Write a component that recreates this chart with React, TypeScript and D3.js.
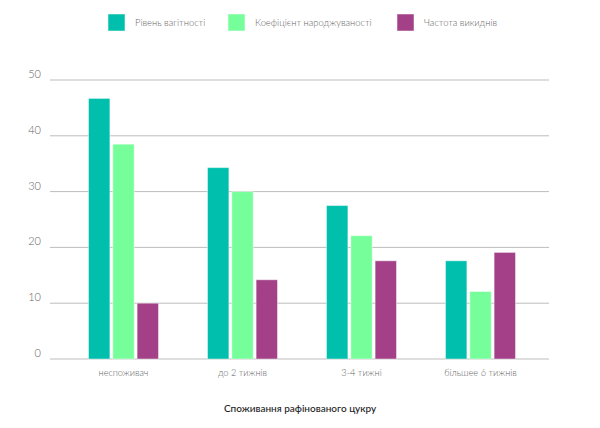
import { useEffect, useRef } from "react";
import * as d3 from "d3";

const categories = ["неспоживач", "до 2 тижнів", "3-4 тижні", "більшее 6 тижнів"];
const seriesNames = ["Рівень вагітності", "Коефіцієнт народжуваності", "Частота викиднів"];
const pregnancy = [46.7, 34.3, 27.5, 17.6];
const birthRate = [38.5, 30.0, 22.1, 12.1];
const miscarriage = [10.0, 14.2, 17.6, 19.1];
const yTicks = [0, 10, 20, 30, 40, 50];
const colors = ["#00bfad", "#76fe9a", "#a34087"];

const width = 600;
const height = 428;
const font = "Lato, 'Open Sans', sans-serif";

export default function App() {
  const svgRef = useRef<SVGSVGElement>(null);

  useEffect(() => {
    if (!svgRef.current) return;
    const svg = d3.select(svgRef.current);
    svg.selectAll("*").remove();

    const series = [pregnancy, birthRate, miscarriage];

    const x = d3.scaleBand<string>()
      .domain(categories)
      .range([64, 540]);

    const inner = d3.scaleBand<number>()
      .domain([0, 1, 2])
      .range([x.bandwidth() / 2 - 35, x.bandwidth() / 2 + 35])
      .paddingInner(0.12);

    const y = d3.scaleLinear()
      .domain([0, 50])
      .range([359, 80]);

    // Gridlines
    svg.append("g")
      .selectAll("line")
      .data(yTicks)
      .join("line")
      .attr("x1", 50)
      .attr("x2", 549)
      .attr("y1", d => y(d))
      .attr("y2", d => y(d))
      .attr("stroke", "#bdbdbd")
      .attr("stroke-width", 1);

    // Y labels
    svg.append("g")
      .selectAll("text")
      .data(yTicks)
      .join("text")
      .attr("x", 41)
      .attr("y", d => y(d) - 2)
      .attr("text-anchor", "end")
      .attr("fill", "#666")
      .attr("font-family", font)
      .attr("font-size", "11px")
      .attr("font-weight", 300)
      .text(d => `${d}`);

    // Bars
    series.forEach((values, si) => {
      svg.append("g")
        .selectAll("rect")
        .data(values)
        .join("rect")
        .attr("x", (_, i) => x(categories[i])! + inner(si)!)
        .attr("y", d => y(d))
        .attr("width", inner.bandwidth())
        .attr("height", d => y(0) - y(d))
        .attr("fill", colors[si])
        .attr("stroke", "rgba(255,255,255,0.45)")
        .attr("stroke-width", 1);
    });

    // X labels
    svg.append("g")
      .selectAll("text")
      .data(categories)
      .join("text")
      .attr("x", d => x(d)! + x.bandwidth() / 2)
      .attr("y", 376)
      .attr("text-anchor", "middle")
      .attr("fill", "#666")
      .attr("font-family", font)
      .attr("font-size", "9.2px")
      .attr("font-weight", 300)
      .text(d => d);

    // Axis title
    svg.append("text")
      .attr("x", 300)
      .attr("y", 412)
      .attr("text-anchor", "middle")
      .attr("fill", "#222")
      .attr("font-family", font)
      .attr("font-size", "10px")
      .attr("font-weight", 500)
      .text("Споживання рафінованого цукру");

    // Legend
    const legendX = [108, 228, 397];
    const legend = svg.append("g");
    seriesNames.forEach((name, i) => {
      legend.append("rect")
        .attr("x", legendX[i])
        .attr("y", 14)
        .attr("width", 17)
        .attr("height", 17)
        .attr("fill", colors[i])
        .attr("stroke", "rgba(255,255,255,0.5)");
      legend.append("text")
        .attr("x", legendX[i] + 27)
        .attr("y", 26)
        .attr("fill", "#666")
        .attr("font-family", font)
        .attr("font-size", "9.4px")
        .attr("font-weight", 300)
        .text(name);
    });
  }, []);

  return (
    <svg
      ref={svgRef}
      width={width}
      height={height}
      style={{ position: "absolute", left: 0, top: 0, background: "#fff" }}
    />
  );
}
